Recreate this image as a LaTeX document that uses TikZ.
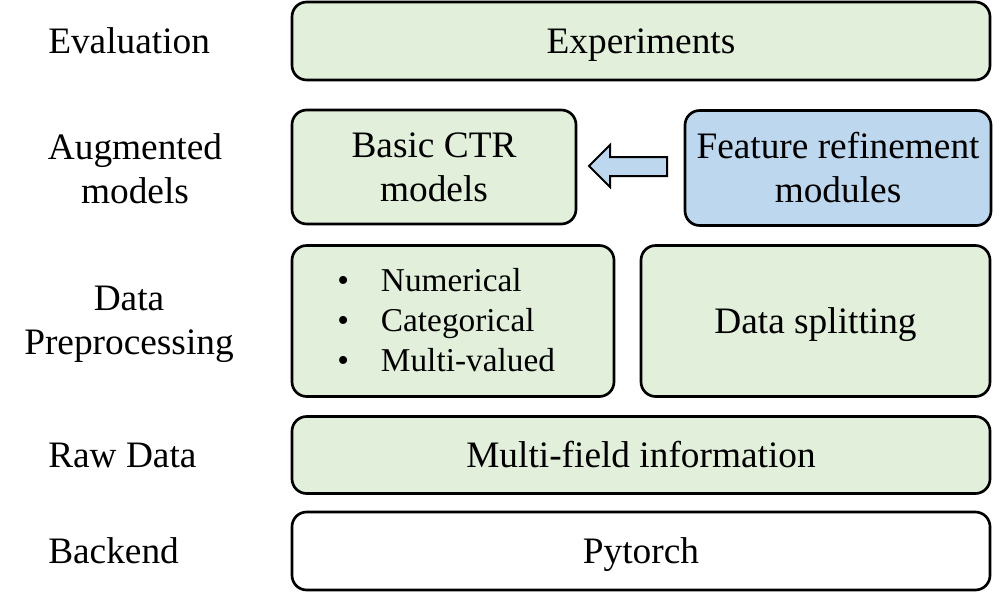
\documentclass[tikz,border=0pt]{standalone}
\usepackage{fontspec}
\setmainfont{Liberation Serif}
\usepackage{xcolor}
\usetikzlibrary{positioning, calc}

\definecolor{boxgreen}{HTML}{E2EFDA}
\definecolor{boxblue}{HTML}{BDD7EE}

\tikzset{
  layerbox/.style={draw, line width=2pt, rounded corners=11pt, fill=boxgreen,
    align=center, inner sep=0pt, font=\fontsize{28}{33}\selectfont},
  layername/.style={align=center, inner sep=0pt, font=\fontsize{28}{33}\selectfont},
}

\begin{document}
\begin{tikzpicture}[x=0.75pt, y=-0.75pt]
      \useasboundingbox (0,0) rectangle (1007,596);

      % layer names
      \node[layername, anchor=west] (evalname) at (48,41) {Evaluation};
      \node[layername] (augname) at (135,169) {Augmented\\models};
      \node[layername] (prename) at (129,324) {Data\\Preprocessing};
      \node[layername, anchor=west] (rawname) at (48,455) {Raw Data};
      \node[layername, anchor=west] (backname) at (48,551) {Backend};

      % layers
      \node[layerbox, text depth=0pt, minimum width=523.5pt, minimum height=58.5pt] (exper) at (641,41) {Experiments};
      \node[layerbox, minimum width=213pt, minimum height=85.5pt] (basic) at (434,167) {Basic CTR\\models};
      \node[layerbox, fill=boxblue, minimum width=229.5pt, minimum height=86.25pt] (refine) at (838,168) {Feature refinement\\modules};
      \node[layerbox, minimum width=241.5pt, minimum height=113.25pt] (feats) at (453,321) {};
      \node[layerbox, text depth=0pt, minimum width=261.75pt, minimum height=113.25pt] (split) at (815.5,321) {Data splitting};
      \node[layerbox, minimum width=523.5pt, minimum height=57.75pt] (fields) at (641,455) {Multi-field information};
      \node[layerbox, text depth=0pt, fill=white, minimum width=523.5pt, minimum height=58.5pt] (torch) at (641,551) {Pytorch};

      \node[anchor=west, align=left, inner sep=0pt, font=\fontsize{25}{30}\selectfont] (featlist) at (337,320)
        {\textbullet\hspace{24pt}Numerical\\ \textbullet\hspace{24pt}Categorical\\ \textbullet\hspace{24pt}Multi-valued};

      % block arrow
      \draw[line width=1.5pt, fill=boxblue, line join=miter]
        (589,166) -- (610,145) -- (610,157) -- (667,157) -- (667,176) -- (610,176) -- (610,187) -- cycle;

    \end{tikzpicture}
\end{document}
